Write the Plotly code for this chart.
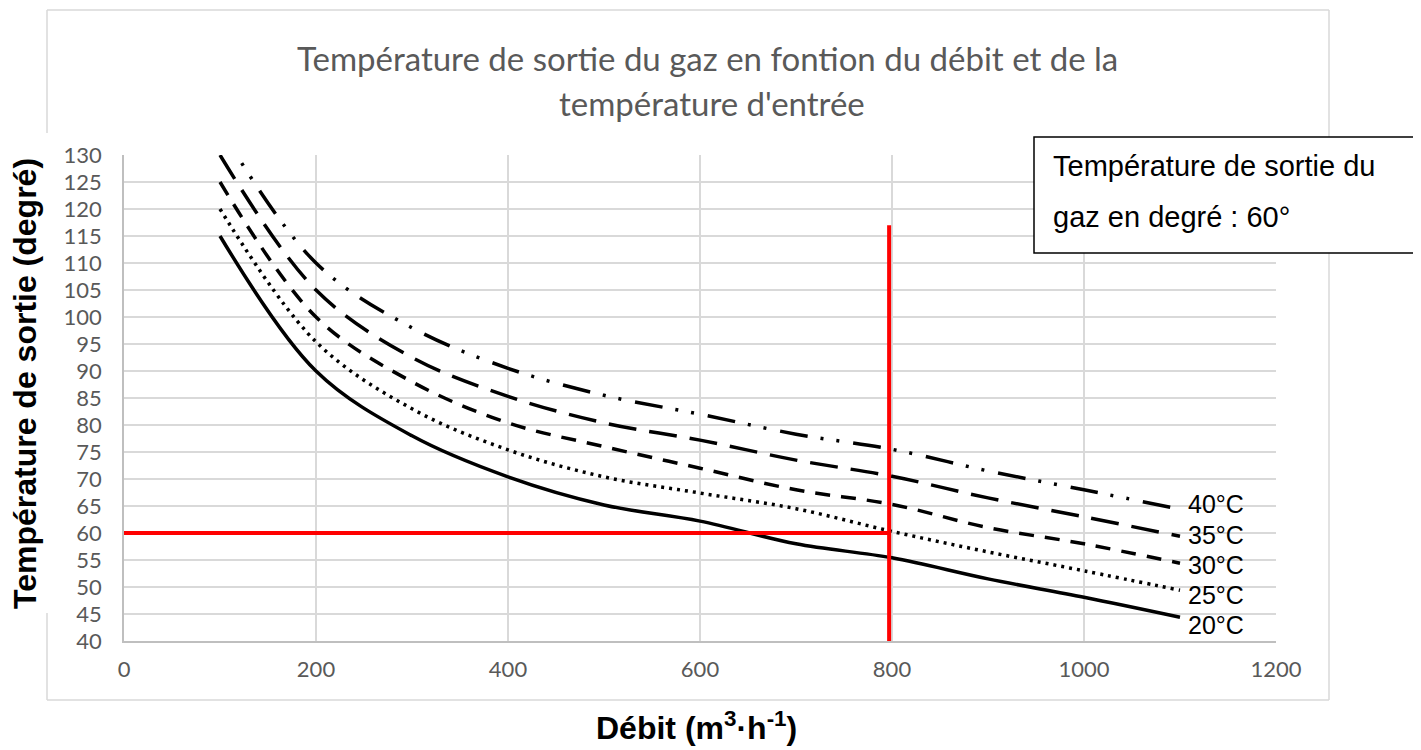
import plotly.graph_objects as go

# ---- data ----
debit = [100, 200, 300, 400, 500, 600, 700, 800, 900, 1000, 1100]
t20 = [115, 90, 78, 70.4, 65.2, 62.2, 58, 55.4, 51.5, 48.1, 44.4]
t25 = [120, 95.4, 83, 75.4, 70.4, 67.4, 64.5, 60.3, 56.5, 53, 49.4]
t30 = [125, 100, 88, 80.4, 76, 72, 68, 65.3, 61, 58, 54.4]
t35 = [130, 105, 92.5, 85.3, 80.4, 77.2, 73.5, 70.5, 66.5, 63, 59.4]
t40 = [135, 110, 98, 90.5, 85.5, 82, 78.3, 75.5, 71.5, 68, 64.4]
series_names = ["20°C", "25°C", "30°C", "35°C", "40°C"]
x_ticks = [0, 200, 400, 600, 800, 1000, 1200]
y_ticks = list(range(40, 131, 5))
red_x = 797
red_y = 60
red_top = 117

series = [t20, t25, t30, t35, t40]
dashes = ["solid", "3px,5px", "15px,11px", "28px,13px", "28px,13px,3px,13px,3px,14px"]
label_shift = [-8, -5, -2, 1, 5]

fig = go.Figure()
for name, ys, d in zip(series_names, series, dashes):
    fig.add_trace(go.Scatter(
        x=debit, y=ys, mode="lines", name=name,
        line=dict(color="black", width=3.5, dash=d, shape="spline", smoothing=1.0),
        showlegend=False, hoverinfo="skip"))

for name, ys, sh in zip(series_names, series, label_shift):
    fig.add_annotation(x=debit[-1], y=ys[-1], xref="x", yref="y", text=name,
                       showarrow=False, xanchor="left", yanchor="middle",
                       xshift=6, yshift=sh,
                       font=dict(family="Liberation Sans, Arial", size=25, color="black"))

# red reading lines
fig.add_shape(type="line", xref="x", yref="y", x0=0, x1=red_x, y0=red_y, y1=red_y,
              line=dict(color="#ff0000", width=4), layer="above")
fig.add_shape(type="line", xref="x", yref="y", x0=red_x, x1=red_x, y0=40, y1=red_top,
              line=dict(color="#ff0000", width=4), layer="above")

# page has an 8px body margin: lay out in page pixels, minus that offset
OFF = 8
PAGE_W, PAGE_H = 1421, 750
W, H = PAGE_W - OFF, PAGE_H - OFF
PL, PT, PR, PB = 124, 155, 1276, 641          # plot area in page pixels
L, T = PL - OFF, PT - OFF
R, B = W - (PR - OFF), H - (PB - OFF)
pw, ph = PR - PL, PB - PT

def px(xp):
    return (xp - PL) / pw

def py(yp):
    return (PB - yp) / ph

# outer chart border (left side interrupted by the axis title)
border = dict(color="#d9d9d9", width=1.5)
fig.add_shape(type="line", xref="paper", yref="paper", x0=px(47), x1=px(1329), y0=py(10), y1=py(10), line=border)
fig.add_shape(type="line", xref="paper", yref="paper", x0=px(1329), x1=px(1329), y0=py(10), y1=py(700), line=border)
fig.add_shape(type="line", xref="paper", yref="paper", x0=px(47), x1=px(1329), y0=py(700), y1=py(700), line=border)
fig.add_shape(type="line", xref="paper", yref="paper", x0=px(47), x1=px(47), y0=py(10), y1=py(133), line=border)
fig.add_shape(type="line", xref="paper", yref="paper", x0=px(47), x1=px(47), y0=py(613), y1=py(700), line=border)

# text box
fig.add_shape(type="rect", xref="paper", yref="paper", x0=px(1034), x1=px(1415), y0=py(137), y1=py(253),
              line=dict(color="black", width=1.5), fillcolor="white", layer="above")
fig.add_annotation(xref="paper", yref="paper", x=px(1051), y=py(166), text="Température de sortie du",
                   showarrow=False, xanchor="left", yanchor="middle",
                   font=dict(family="Liberation Sans, Arial", size=29, color="black"))
fig.add_annotation(xref="paper", yref="paper", x=px(1051), y=py(217), text="gaz en degré : 60°",
                   showarrow=False, xanchor="left", yanchor="middle",
                   font=dict(family="Liberation Sans, Arial", size=29, color="black"))

# title (two lines)
fig.add_annotation(xref="paper", yref="paper", x=px(707), y=py(58),
                   text="Température de sortie du gaz en fontion du débit et de la",
                   showarrow=False, xanchor="center", yanchor="middle",
                   font=dict(family="Lato", size=33, color="#595959"))
fig.add_annotation(xref="paper", yref="paper", x=px(712), y=py(103),
                   text="température d'entrée",
                   showarrow=False, xanchor="center", yanchor="middle",
                   font=dict(family="Lato", size=33, color="#595959"))

# axis titles
fig.add_annotation(xref="paper", yref="paper", x=px(25), y=py(384),
                   text="<b>Température de sortie (degré)</b>", textangle=-90,
                   showarrow=False, xanchor="center", yanchor="middle",
                   font=dict(family="Liberation Sans, Arial", size=32, color="black"))
fig.add_annotation(xref="paper", yref="paper", x=px(696), y=py(726),
                   text="<b>Débit (m<sup>3</sup>·h<sup>-1</sup>)</b>",
                   showarrow=False, xanchor="center", yanchor="middle",
                   font=dict(family="Liberation Sans, Arial", size=32, color="black"))

fig.update_layout(
    width=W, height=H,
    margin=dict(l=L, r=R, t=T, b=B),
    paper_bgcolor="white", plot_bgcolor="white",
    xaxis=dict(range=[0, 1200], tickvals=x_ticks, ticktext=[str(v) for v in x_ticks],
               showgrid=True, gridcolor="#d9d9d9", gridwidth=1.5,
               showline=True, linecolor="#bfbfbf", linewidth=1.5,
               zeroline=False, ticks="", ticklabelstandoff=8,
               tickfont=dict(family="Lato", size=22, color="#595959")),
    yaxis=dict(range=[40, 130], tickvals=y_ticks, ticktext=[str(v) for v in y_ticks],
               showgrid=True, gridcolor="#d9d9d9", gridwidth=1.5,
               showline=True, linecolor="#bfbfbf", linewidth=1.5,
               zeroline=False, ticks="", ticklabelstandoff=16,
               tickfont=dict(family="Lato", size=22, color="#595959")),
)

fig.write_html("out.html")
